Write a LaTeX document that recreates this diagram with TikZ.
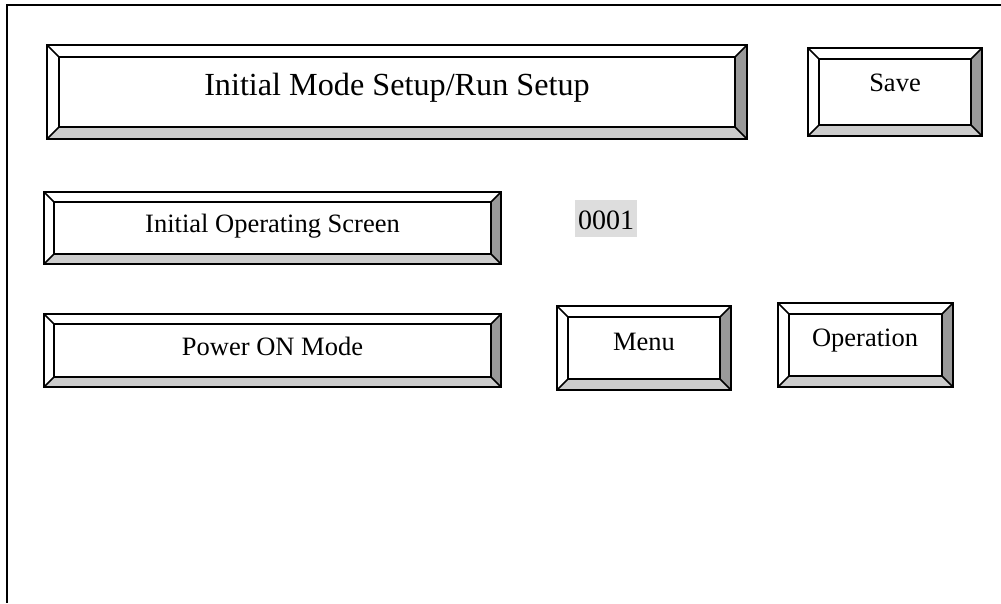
\documentclass[tikz,border=0pt]{standalone}
\usepackage{fontspec}
\setmainfont{Liberation Serif}
\definecolor{bevlight}{HTML}{CCCCCC}
\definecolor{bevdark}{HTML}{999999}
\definecolor{numshade}{HTML}{DDDDDD}
\newcommand\bvbox[6]{% name, x1,y1,x2,y2,bevel
  \coordinate (#1-nw) at (#2,#3);
  \coordinate (#1-se) at (#4,#5);
  \coordinate (#1-inw) at ({#2+#6},{#3+#6});
  \coordinate (#1-ise) at ({#4-#6},{#5-#6});
  \fill[bevlight] (#2,#5) -- (#4,#5) -- ({#4-#6},{#5-#6}) -- ({#2+#6},{#5-#6}) -- cycle;
  \fill[bevdark] (#4,#3) -- (#4,#5) -- ({#4-#6},{#5-#6}) -- ({#4-#6},{#3+#6}) -- cycle;
  \draw[boxline] (#1-nw) rectangle (#1-se);
  \draw[boxline] (#1-inw) rectangle (#1-ise);
  \draw[boxline] (#2,#3) -- ({#2+#6},{#3+#6});
  \draw[boxline] (#4,#3) -- ({#4-#6},{#3+#6});
  \draw[boxline] (#2,#5) -- ({#2+#6},{#5-#6});
  \draw[boxline] (#4,#5) -- ({#4-#6},{#5-#6});
}
\begin{document}
\begin{tikzpicture}[x=1pt,y=-1pt,
  boxline/.style={draw=black,line width=1.6pt,line join=miter},
  frameline/.style={draw=black,line width=1.8pt},
  lbl/.style={inner sep=0pt,anchor=base,font=\fontsize{26.5}{30}\selectfont},
  numlbl/.style={inner sep=0pt,anchor=base,font=\fontsize{28}{32}\selectfont},
  biglbl/.style={inner sep=0pt,anchor=base,font=\fontsize{32.2}{37}\selectfont}]
\useasboundingbox (0,0) rectangle (1001,603);
\coordinate (ftl) at (7,5);
\coordinate (ftr) at (1001,5);
\coordinate (fbl) at (7,603);
\draw[frameline] (ftr) -- (ftl) -- (fbl);

\bvbox{title}{47}{45}{747}{139}{12}
\bvbox{save}{808}{48}{982}{136}{11}
\bvbox{ios}{44}{192}{501}{264}{10}
\bvbox{pon}{44}{314}{501}{387}{10}
\bvbox{menu}{557}{306}{731}{390}{11}
\bvbox{oper}{778}{303}{953}{387}{11}

\node[biglbl] (titletext) at (397,95.5) {Initial Mode Setup/Run Setup};
\node[lbl] (savetext) at (895,91.5) {Save};
\node[lbl] (iostext) at (272.5,232) {Initial Operating Screen};
\node[lbl] (pontext) at (272.5,355.5) {Power ON Mode};
\fill[numshade] (575,200) rectangle (637,237);
\node[numlbl] (numtext) at (606,229) {0001};
\node[lbl] (menutext) at (644,350) {Menu};
\node[lbl] (opertext) at (865,346.5) {Operation};
\end{tikzpicture}
\end{document}
